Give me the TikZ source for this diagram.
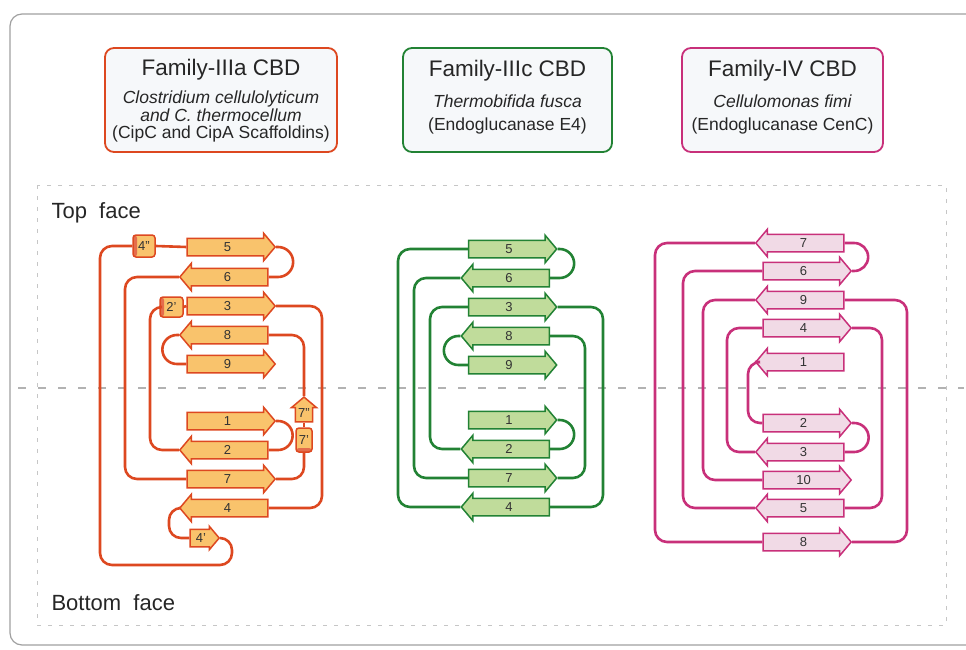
\documentclass[tikz,border=0pt]{standalone}
\usepackage{fontspec}
\setmainfont{Liberation Sans}
\usetikzlibrary{shapes.arrows, positioning, calc}

\definecolor{IIIaline}{RGB}{221,72,32}
\definecolor{IIIafill}{RGB}{249,195,108}
\definecolor{IIIcline}{RGB}{34,130,52}
\definecolor{IIIcfill}{RGB}{192,220,155}
\definecolor{IVline}{RGB}{200,48,122}
\definecolor{IVfill}{RGB}{241,218,230}
\definecolor{boxfill}{RGB}{246,248,250}
\definecolor{framegray}{RGB}{160,160,160}

\tikzset{
  strand/.style={single arrow, draw=#1line, fill=#1fill, line width=1.5pt,
    minimum height=88pt, single arrow head extend=5pt,
    single arrow tip angle=100, inner sep=0pt, text height=12pt, text depth=4pt,
    text=black!80, font=\fontsize{13}{13}\selectfont},
  fwd/.style={shape border rotate=0},
  rev/.style={shape border rotate=180},
  helixL/.style={rectangle, draw=#1line, line width=1.5pt, fill=#1fill, rounded corners=3pt,
    minimum width=22pt, minimum height=22pt, inner sep=0pt, text=black!80,
    font=\fontsize{13}{13}\selectfont,
    path picture={\fill[#1line!80] (path picture bounding box.north west)
      rectangle ([xshift=4pt]path picture bounding box.south west);}},
  helixB/.style={rectangle, draw=#1line, line width=1.5pt, fill=#1fill, rounded corners=3pt,
    minimum width=16pt, minimum height=24pt, inner sep=0pt, text=black!80,
    font=\fontsize{13}{13}\selectfont,
    path picture={\fill[#1line!80] (path picture bounding box.south west)
      rectangle ([yshift=4pt]path picture bounding box.south east);}},
  link/.style={draw=#1line, line width=2.6pt, rounded corners=12pt},
  turn/.style={draw=#1line, line width=2.6pt, sharp corners},
  header/.style={draw=#1line, line width=1.8pt, fill=boxfill, rounded corners=9pt,
    minimum height=104pt},
  title/.style={anchor=base, text=black!85, font=\fontsize{22.5}{24}\selectfont},
  species/.style={anchor=base, text=black!85, font=\fontsize{17.5}{20}\selectfont\itshape},
  protein/.style={anchor=base, text=black!85, font=\fontsize{17.5}{20}\selectfont},
  face/.style={anchor=base west, text=black!85, font=\fontsize{22}{24}\selectfont}
}

\begin{document}
\begin{tikzpicture}[x=1pt, y=-1pt]
\useasboundingbox (0,0) rectangle (966,650);
% frame and faces
\draw[framegray, line width=1.2pt, rounded corners=12pt] (966,14) -- (10,14) -- (10,645) -- (966,645);
\draw[gray!45, line width=1pt, dash pattern=on 4pt off 7pt] (37,185) rectangle (946,625);
\draw[gray!60, line width=1.6pt, dash pattern=on 8pt off 12pt] (18,388) -- (964,388);
\node[face] (top) at (48,218) {Top\ \ face};
\node[face] (bottom) at (48,610) {Bottom\ \ face};

% headers
\node[header=IIIa, minimum width=232pt] (hA) at (221,100) {};
\node[title] (tA) at (221,76) {Family-IIIa CBD};
\node[species] (sA1) at (221,103.5) {Clostridium cellulolyticum};
\node[species] (sA2) at (221,121.5) {and C. thermocellum};
\node[protein] (pA) at (221,139) {(CipC and CipA Scaffoldins)};
\node[header=IIIc, minimum width=209pt] (hC) at (507.5,100) {};
\node[title] (tC) at (507.5,77) {Family-IIIc CBD};
\node[species] (sC) at (507.5,108) {Thermobifida fusca};
\node[protein] (pC) at (507.5,130.5) {(Endoglucanase E4)};
\node[header=IV, minimum width=201pt] (hD) at (782.5,100) {};
\node[title] (tD) at (782.5,77) {Family-IV CBD};
\node[species] (sD) at (782.5,108) {Cellulomonas fimi};
\node[protein] (pD) at (782.5,130.5) {(Endoglucanase CenC)};

% Family-IIIa topology
\node[strand=IIIa, fwd] (a5) at (227.5,247) {5};
\node[strand=IIIa, rev] (a6) at (227.5,277) {6};
\node[strand=IIIa, fwd] (a3) at (227.5,306) {3};
\node[strand=IIIa, rev] (a8) at (227.5,335) {8};
\node[strand=IIIa, fwd] (a9) at (227.5,364) {9};
\node[strand=IIIa, fwd] (a1) at (227.5,421) {1};
\node[strand=IIIa, rev] (a2) at (227.5,450) {2};
\node[strand=IIIa, fwd] (a7) at (227.5,479) {7};
\node[strand=IIIa, rev] (a4) at (227.5,508) {4};
\node[strand=IIIa, fwd, minimum height=29pt, single arrow head extend=3pt] (a4p) at (201,538) {4'};
\node[helixL=IIIa] (a4pp) at (144,246) {4"};
\node[helixL=IIIa, minimum width=23pt, minimum height=20pt] (a2p) at (171.5,307) {2'};
\node[helixB=IIIa] (a7p) at (304,440) {7'};
\node[strand=IIIa, shape border rotate=90, minimum height=24pt, inner xsep=2pt,
  single arrow head extend=4pt] (a7pp) at (304,413) {7"};
\draw[turn=IIIa] (a1.tip) -- ++(2,0) arc[start angle=-90, end angle=90, radius=14.5] -- (a2.tail);
\draw[link=IIIa] (a2.tip) -| (150,307) -- (a2p.west);
\draw[link=IIIa] (a2p.east) -- (a3.tail);
\draw[link=IIIa] (a3.tip) -| (322,508) -- (a4.tail);
\draw[link=IIIa] (a4.tip) -| (169,538) -- (a4p.tail);
\draw[link=IIIa] (a4p.tip) -| (232,565) -| (100,246) -- (a4pp.west);
\draw[link=IIIa] (a4pp.east) -- (a5.tail);
\draw[turn=IIIa] (a5.tip) -- ++(2,0) arc[start angle=-90, end angle=90, radius=15] -- (a6.tail);
\draw[link=IIIa] (a6.tip) -| (125,479) -- (a7.tail);
\draw[link=IIIa] (a7.tip) -| (a7p.south);
\draw[link=IIIa] (a7p.north) -- (a7pp.tail);
\draw[link=IIIa] (a7pp.tip) |- (a8.tail);
\draw[turn=IIIa] (a8.tip) -- ++(-2,0) arc[start angle=270, end angle=90, radius=14.5] -- (a9.tail);

% Family-IIIc topology
\node[strand=IIIc, fwd] (c5) at (509,249) {5};
\node[strand=IIIc, rev] (c6) at (509,278) {6};
\node[strand=IIIc, fwd] (c3) at (509,307) {3};
\node[strand=IIIc, rev] (c8) at (509,336) {8};
\node[strand=IIIc, fwd] (c9) at (509,365) {9};
\node[strand=IIIc, fwd] (c1) at (509,420) {1};
\node[strand=IIIc, rev] (c2) at (509,449) {2};
\node[strand=IIIc, fwd] (c7) at (509,478) {7};
\node[strand=IIIc, rev] (c4) at (509,507) {4};
\draw[turn=IIIc] (c1.tip) -- ++(2,0) arc[start angle=-90, end angle=90, radius=14.5] -- (c2.tail);
\draw[link=IIIc] (c2.tip) -| (430,307) -- (c3.tail);
\draw[link=IIIc] (c3.tip) -| (603,507) -- (c4.tail);
\draw[link=IIIc] (c4.tip) -| (398,249) -- (c5.tail);
\draw[turn=IIIc] (c5.tip) -- ++(2,0) arc[start angle=-90, end angle=90, radius=14.5] -- (c6.tail);
\draw[link=IIIc] (c6.tip) -| (414,478) -- (c7.tail);
\draw[link=IIIc] (c7.tip) -| (585,336) -- (c8.tail);
\draw[turn=IIIc] (c8.tip) -- ++(-2,0) arc[start angle=270, end angle=90, radius=14.5] -- (c9.tail);

% Family-IV topology
\node[strand=IV, rev] (m7) at (803.5,243) {7};
\node[strand=IV, fwd] (m6) at (803.5,271) {6};
\node[strand=IV, rev] (m9) at (803.5,300) {9};
\node[strand=IV, fwd] (m4) at (803.5,328) {4};
\node[strand=IV, rev] (m1) at (803.5,362) {1};
\node[strand=IV, fwd] (m2) at (803.5,423) {2};
\node[strand=IV, rev] (m3) at (803.5,452) {3};
\node[strand=IV, fwd] (m10) at (803.5,480) {10};
\node[strand=IV, rev] (m5) at (803.5,508) {5};
\node[strand=IV, fwd] (m8) at (803.5,542) {8};
\draw[link=IV] (m1.tip) -| (748,423) -- (m2.tail);
\draw[turn=IV] (m2.tip) -- ++(2,0) arc[start angle=-90, end angle=90, radius=14.5] -- (m3.tail);
\draw[link=IV] (m3.tip) -| (727,328) -- (m4.tail);
\draw[link=IV] (m4.tip) -| (882,508) -- (m5.tail);
\draw[link=IV] (m5.tip) -| (683,271) -- (m6.tail);
\draw[turn=IV] (m6.tip) -- ++(2,0) arc[start angle=90, end angle=-90, radius=14] -- (m7.tail);
\draw[link=IV] (m7.tip) -| (655,542) -- (m8.tail);
\draw[link=IV] (m8.tip) -| (907,300) -- (m9.tail);
\draw[link=IV] (m9.tip) -| (703,480) -- (m10.tail);
\end{tikzpicture}
\end{document}
